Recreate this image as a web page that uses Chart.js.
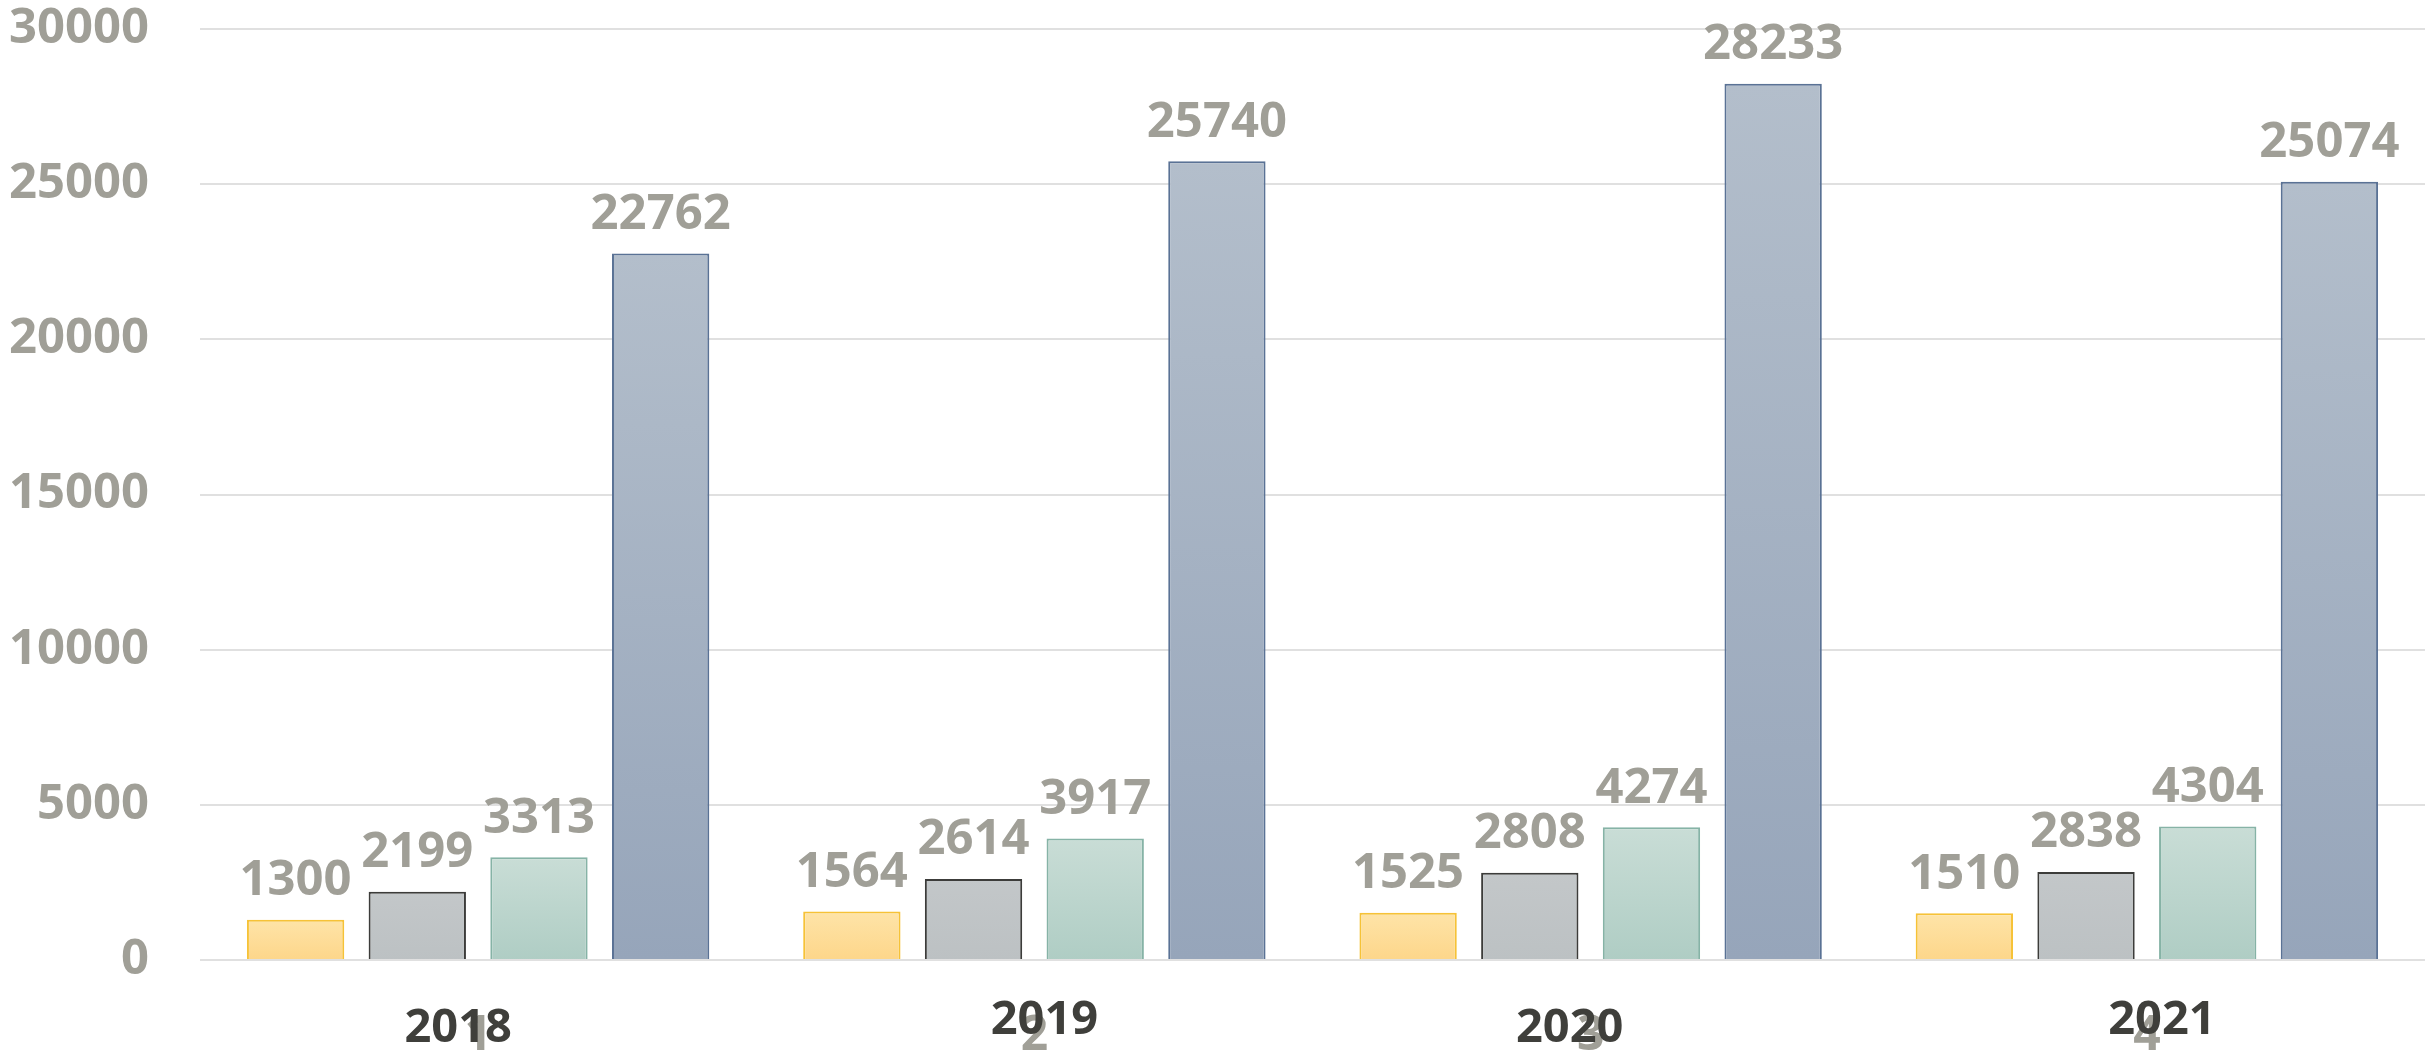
<!DOCTYPE html>
<html>
<head>
<meta charset="utf-8">
<script src="https://cdn.jsdelivr.net/npm/chart.js@4"></script>
<style>
  html, body { margin: 0; padding: 0; background: #fff; overflow: hidden; }
  canvas { display: block; }
</style>
</head>
<body>
<canvas id="barChart" width="2425" height="1051"></canvas>
<script>
// data
const categories = ['1', '2', '3', '4'];
const years = ['2018', '2019', '2020', '2021'];
const seriesA = [1300, 1564, 1525, 1510];
const seriesB = [2199, 2614, 2808, 2838];
const seriesC = [3313, 3917, 4274, 4304];
const seriesD = [22762, 25740, 28233, 25074];
const yMax = 30000;
const yStep = 5000;

const grey = '#a09f97';
const dark = '#3f3f3b';
const font = '"Open Sans", "Noto Sans", sans-serif';

// year labels sit slightly off the category centre, as in the original
const yearShift = [-20, 10, -21, 15];
const yearY = [1029, 1021, 1029, 1021];

// per-bar vertical gradient from bar top to the baseline
function grad(top, bottom) {
  return (ctx) => {
    const chart = ctx.chart;
    const area = chart.chartArea;
    if (!area || !ctx.parsed || !chart.scales.y) return bottom;
    const y = chart.scales.y.getPixelForValue(ctx.parsed.y);
    const g = chart.ctx.createLinearGradient(0, y, 0, area.bottom);
    g.addColorStop(0, top);
    g.addColorStop(1, bottom);
    return g;
  };
}

const valueLabels = {
  id: 'valueLabels',
  afterDatasetsDraw(chart) {
    const c = chart.ctx;
    c.save();
    c.font = 'bold 49px ' + font;
    c.fillStyle = grey;
    c.textAlign = 'center';
    c.textBaseline = 'bottom';
    chart.data.datasets.forEach((ds, i) => {
      chart.getDatasetMeta(i).data.forEach((bar, j) => {
        c.fillText(String(ds.data[j]), bar.x, bar.y - 14);
      });
    });
    c.restore();
  }
};

const yearLabels = {
  id: 'yearLabels',
  afterDraw(chart) {
    const c = chart.ctx;
    const x = chart.scales.x;
    c.save();
    c.font = 'bold 47px ' + font;
    c.fillStyle = dark;
    c.textAlign = 'center';
    c.textBaseline = 'middle';
    years.forEach((yr, i) => {
      c.fillText(yr, x.getPixelForValue(i) + yearShift[i], yearY[i]);
    });
    c.restore();
  }
};

const barChart = document.getElementById('barChart').getContext('2d');
new Chart(barChart, {
  type: 'bar',
  data: {
    labels: categories,
    datasets: [
      { data: seriesA, backgroundColor: grad('#fee4a8', '#fdd68a'), borderColor: '#f6c237', borderWidth: 2 },
      { data: seriesB, backgroundColor: grad('#c3c7c9', '#bcc1c3'), borderColor: '#3c3c3a', borderWidth: 2 },
      { data: seriesC, backgroundColor: grad('#c9ddd6', '#afcdc4'), borderColor: '#86b3a6', borderWidth: 2 },
      { data: seriesD, backgroundColor: grad('#b3becb', '#96a5ba'), borderColor: '#5a7295', borderWidth: 2 }
    ]
  },
  options: {
    responsive: false,
    animation: false,
    categoryPercentage: 0.875,
    barPercentage: 0.8,
    plugins: {
      legend: { display: false },
      tooltip: { enabled: false }
    },
    scales: {
      x: {
        grid: { display: false },
        border: { display: false },
        ticks: { color: grey, font: { family: font, size: 48, weight: 'bold' }, padding: 40 },
        afterFit: (s) => { s.height = 91; }
      },
      y: {
        min: 0,
        max: yMax,
        grid: { color: '#e0e0e0', lineWidth: 2, drawTicks: false },
        border: { display: false },
        ticks: {
          stepSize: yStep,
          color: grey,
          font: { family: font, size: 49, weight: 'bold' },
          padding: 51,
          callback: (v) => String(v)
        },
        afterFit: (s) => { s.width = 200; s.paddingTop = 29; s.paddingBottom = 0; }
      }
    }
  },
  plugins: [valueLabels, yearLabels]
});
</script>
</body>
</html>
